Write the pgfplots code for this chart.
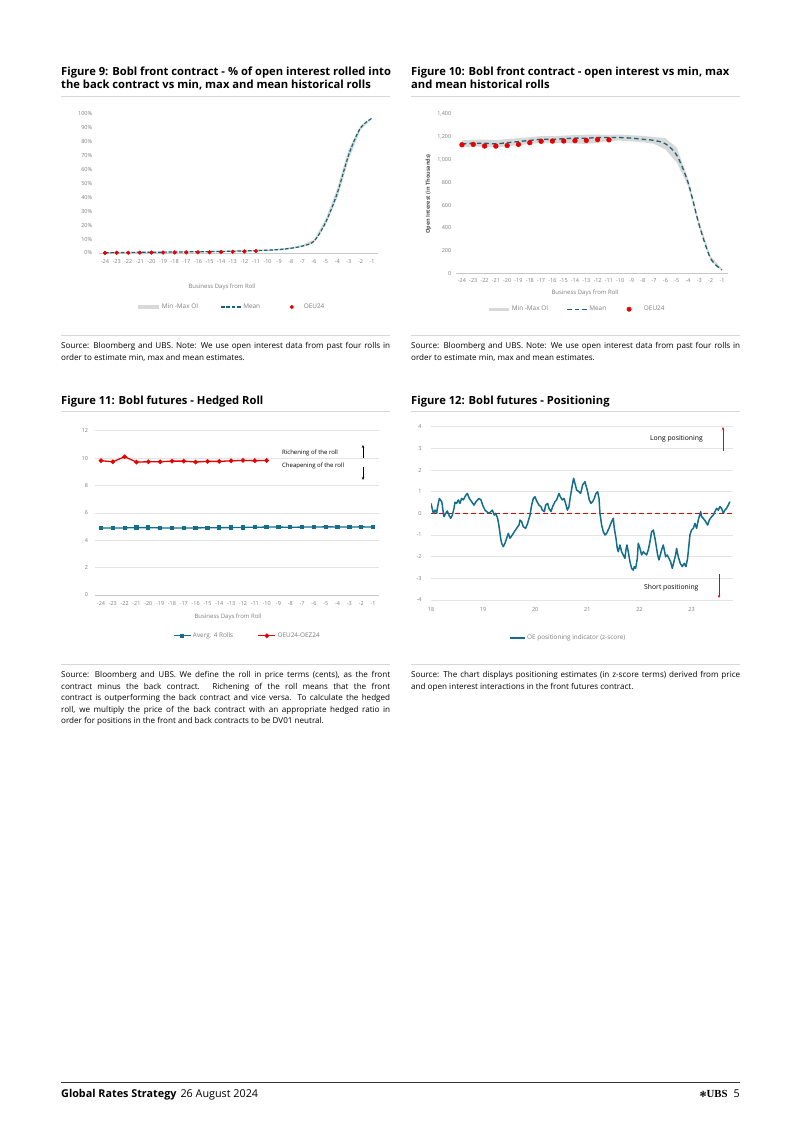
\documentclass[border=0pt]{standalone}
\usepackage{pgfplots}
\pgfplotsset{compat=1.18}
\usepgfplotslibrary{fillbetween}
\usetikzlibrary{arrows.meta}
\usepackage{fontspec}
\setmainfont{Open Sans}
\newfontfamily\symfont{DejaVu Sans}
\definecolor{tealA}{RGB}{24,100,118}
\definecolor{tealB}{RGB}{18,110,140}
\definecolor{ubsred}{RGB}{230,0,0}
\definecolor{ubsredB}{RGB}{231,1,1}
\definecolor{ubsredC}{RGB}{229,2,2}
\definecolor{ubsredD}{RGB}{228,3,3}
\definecolor{band}{RGB}{216,216,216}
\definecolor{gridc}{RGB}{228,228,228}
\definecolor{tickc}{RGB}{125,125,125}
\definecolor{rulec}{RGB}{215,215,215}
\newcommand{\tickfont}{\fontsize{5.5}{6}\selectfont}
\newcommand{\legfont}{\fontsize{6.4}{7}\selectfont}
\newcommand{\titlefont}{\fontsize{11.2}{12.6}\selectfont\bfseries}
\newcommand{\srcfont}{\fontsize{8.1}{11.5}\selectfont\hyphenpenalty=10000\exhyphenpenalty=10000}
\pgfplotsset{
  pagestyle/.style={
    scale only axis,
    axis line style={draw=black!22},
    tick label style={font=\tickfont, text=tickc},
    major tick length=0pt,
    /pgf/number format/assume math mode=true,
    legend style={draw=none, fill=none, inner sep=0pt, font=\legfont, text=tickc,
      nodes={inner sep=1.5pt}},
    legend cell align=left,
  },
  legband/.style={legend image code/.code={\draw[band, line width=3.2pt] (0pt,0pt) -- (#1,0pt);}},
  legmeanA/.style={legend image code/.code={\draw[tealA, line width=1.2pt, dash pattern=on 3.5pt off 1.8pt] (0pt,0pt) -- (20pt,0pt);}},
  legmeanB/.style={legend image code/.code={\draw[tealA, line width=1.3pt, dash pattern=on 4.5pt off 3pt] (0pt,0pt) -- (20pt,0pt);}},
  legdot/.style={legend image code/.code={\fill[ubsred] (0pt,0pt) circle (#1);}},
  legteal/.style={legend image code/.code={\draw[tealB, line width=1.5pt] (0pt,0pt) -- (15pt,0pt);}},
}
\begin{document}
\begin{tikzpicture}[x=1pt,y=1pt]

% ---------------- Figure 9 ----------------
\node[anchor=base west, font=\titlefont, inner sep=0] at (61,-75.7) {Figure 9: Bobl front contract - \% of open interest rolled into};
\node[anchor=base west, font=\titlefont, inner sep=0] at (61,-88.3) {the back contract vs min, max and mean historical rolls};
\draw[rulec, line width=0.6pt] (61,-96) -- (390,-96);
\begin{axis}[pagestyle, at={(99.2pt,-253pt)}, anchor=south west,
  width=278.7pt, height=139pt,
  xmin=-24.5, xmax=-0.5, ymin=0, ymax=100,
  axis x line*=bottom, axis y line*=left, y axis line style={draw=none},
  xtick={-24,...,-1}, ytick={0,10,...,100},
  yticklabel={\pgfmathprintnumber{\tick}\%},
  xticklabel style={yshift=-3pt}, yticklabel style={xshift=-3.5pt},
  legend columns=3,
  legend style={at={(axis description cs:0.132,-0.3885)}, anchor=west,
    /tikz/column 2/.style={column sep=21pt},
    /tikz/column 4/.style={column sep=28pt},
    /tikz/column 5/.style={column sep=8.5pt}},
  ]
\addplot[name path=up9, draw=none, forget plot] coordinates {
(-24,0.6) (-23,0.7) (-22,0.8) (-21,0.9) (-20,1.0) (-19,1.1) (-18,1.2) (-17,1.3) (-16,1.4) (-15,1.5) (-14,1.7) (-13,1.9) (-12,2.1) (-11,2.3) (-10,2.6) (-9,3.1) (-8,4.1) (-7,5.8) (-6,9.6) (-5,24.5) (-4,46.5) (-3,75) (-2,91.5) (-1,97.6)};
\addplot[name path=lo9, draw=none, forget plot] coordinates {
(-24,0) (-23,0) (-22,0.1) (-21,0.2) (-20,0.2) (-19,0.3) (-18,0.4) (-17,0.4) (-16,0.5) (-15,0.6) (-14,0.7) (-13,0.8) (-12,1.0) (-11,1.2) (-10,1.5) (-9,2.0) (-8,2.8) (-7,4.3) (-6,7.5) (-5,20) (-4,39.5) (-3,67.5) (-2,88.5) (-1,96.5)};
\addplot[band, forget plot] fill between[of=up9 and lo9];
\addlegendimage{legband=21pt}
\addlegendentry{Min -Max OI}
\addplot[tealA, line width=1.2pt, dash pattern=on 3.5pt off 1.8pt, smooth, legmeanA] coordinates {
(-24,0.2) (-23,0.3) (-22,0.4) (-21,0.5) (-20,0.5) (-19,0.6) (-18,0.7) (-17,0.8) (-16,0.9) (-15,1.0) (-14,1.1) (-13,1.3) (-12,1.5) (-11,1.7) (-10,2.0) (-9,2.5) (-8,3.4) (-7,5.0) (-6,8.5) (-5,22) (-4,43) (-3,71) (-2,90) (-1,97)};
\addlegendentry{Mean}
\addplot[only marks, mark=*, mark size=1.9pt, ubsred, legdot=1.9pt] coordinates {
(-24,0.1) (-23,0.15) (-22,0.2) (-21,0.25) (-20,0.3) (-19,0.35) (-18,0.4) (-17,0.45) (-16,0.5) (-15,0.55) (-14,0.7) (-13,0.9) (-12,1.1) (-11,1.4)};
\addlegendentry{OEU24}
\end{axis}
\node[font=\fontsize{6}{7}\selectfont, text=tickc] at (222,-287) {Business Days from Roll};
\draw[rulec, line width=0.6pt] (61,-335) -- (390,-335);
\node[anchor=north west, font=\srcfont, text width=329pt, align=justify, inner sep=0] at (61,-342.5)
 {Source: Bloomberg and UBS. Note: We use open interest data from past four rolls in\linebreak order to estimate min, max and mean estimates.};

% ---------------- Figure 10 ----------------
\node[anchor=base west, font=\titlefont, inner sep=0] at (411,-75.7) {Figure 10: Bobl front contract - open interest vs min, max};
\node[anchor=base west, font=\titlefont, inner sep=0] at (411,-88.3) {and mean historical rolls};
\draw[rulec, line width=0.6pt] (411,-96) -- (740,-96);
\begin{axis}[pagestyle, at={(456.3pt,-273.3pt)}, anchor=south west,
  width=271.3pt, height=159pt,
  xmin=-24.5, xmax=-0.5, ymin=0, ymax=1400,
  axis x line*=bottom, axis y line*=left, y axis line style={draw=none},
  xtick={-24,...,-1}, ytick={0,200,...,1400},
  /pgf/number format/1000 sep={,},
  scaled y ticks=false,
  xticklabel style={yshift=-2pt}, yticklabel style={xshift=-1.5pt},
  legend columns=3,
  legend style={at={(axis description cs:0.113,-0.226)}, anchor=west,
    /tikz/column 2/.style={column sep=17pt},
    /tikz/column 4/.style={column sep=19pt},
    /tikz/column 5/.style={column sep=11pt}},
  ]
\addplot[name path=up10, draw=none, forget plot] coordinates {
(-24,1170) (-23,1178) (-22,1178) (-21,1172) (-20,1182) (-19,1190) (-18,1198) (-17,1208) (-16,1208) (-15,1212) (-14,1218) (-13,1220) (-12,1222) (-11,1218) (-10,1222) (-9,1215) (-8,1210) (-7,1200) (-6,1190) (-5,1105) (-4,835) (-3,450) (-2,150) (-1,42)};
\addplot[name path=lo10, draw=none, forget plot] coordinates {
(-24,1112) (-23,1115) (-22,1115) (-21,1108) (-20,1118) (-19,1128) (-18,1138) (-17,1150) (-16,1150) (-15,1148) (-14,1142) (-13,1140) (-12,1148) (-11,1165) (-10,1168) (-9,1162) (-8,1155) (-7,1140) (-6,1090) (-5,975) (-4,770) (-3,395) (-2,110) (-1,20)};
\addplot[band, forget plot] fill between[of=up10 and lo10];
\addlegendimage{legband=20pt}
\addlegendentry{Min -Max OI}
\addplot[tealA, line width=1.3pt, dash pattern=on 4.5pt off 3pt, smooth, legmeanB] coordinates {
(-24,1140) (-23,1145) (-22,1145) (-21,1140) (-20,1150) (-19,1160) (-18,1170) (-17,1180) (-16,1180) (-15,1185) (-14,1190) (-13,1190) (-12,1195) (-11,1195) (-10,1195) (-9,1190) (-8,1180) (-7,1170) (-6,1140) (-5,1040) (-4,800) (-3,420) (-2,130) (-1,30)};
\addlegendentry{Mean}
\addplot[only marks, mark=*, mark size=2.4pt, ubsred, legdot=2.2pt] coordinates {
(-24,1132) (-23,1135) (-22,1121) (-21,1120) (-20,1125) (-19,1135) (-18,1150) (-17,1162) (-16,1164) (-15,1165) (-14,1168) (-13,1170) (-12,1177) (-11,1175)};
\addlegendentry{OEU24}
\end{axis}
\node[font=\fontsize{6}{7}\selectfont, text=tickc] at (585,-293) {Business Days from Roll};
\node[rotate=90, font=\tickfont\bfseries, text=black!70] at (428.5,-194) {Open Interest (in Thousands)};
\draw[rulec, line width=0.6pt] (411,-335) -- (740,-335);
\node[anchor=north west, font=\srcfont, text width=329pt, align=justify, inner sep=0] at (411,-342.5)
 {Source: Bloomberg and UBS. Note: We use open interest data from past four rolls in\linebreak order to estimate min, max and mean estimates.};

% ---------------- Figure 11 ----------------
\node[anchor=base west, font=\titlefont, inner sep=0] at (61,-404) {Figure 11: Bobl futures - Hedged Roll};
\draw[rulec, line width=0.6pt] (61,-411) -- (390,-411);
\begin{axis}[pagestyle, at={(95.1pt,-595pt)}, anchor=south west,
  width=283.9pt, height=164.3pt,
  xmin=-24.5, xmax=-0.5, ymin=0, ymax=12,
  axis x line*=bottom, axis y line*=left, y axis line style={draw=none},
  ymajorgrids, grid style={gridc, line width=0.6pt},
  xtick={-24,...,-1}, ytick={0,2,...,12},
  xticklabel style={yshift=-3pt}, yticklabel style={xshift=-3.5pt},
  legend columns=2,
  legend style={at={(axis description cs:0.274,-0.248)}, anchor=west,
    /tikz/column 2/.style={column sep=23pt}},
  ]
\addplot[tealB, line width=1.3pt, mark=square*, mark size=1.5pt] coordinates {
(-24,4.89) (-23,4.89) (-22,4.90) (-21,4.92) (-20,4.92) (-19,4.90) (-18,4.90) (-17,4.89) (-16,4.90) (-15,4.91) (-14,4.92) (-13,4.92) (-12,4.94) (-11,4.95) (-10,4.96) (-9,4.96) (-8,4.95) (-7,4.96) (-6,4.96) (-5,4.98) (-4,4.97) (-3,4.96) (-2,4.98) (-1,4.96)};
\addlegendentry{Averg. 4 Rolls}
\addplot[ubsred, line width=1.3pt, mark=*, mark size=1.6pt] coordinates {
(-24,9.81) (-23,9.73) (-22,10.1) (-21,9.71) (-20,9.73) (-19,9.73) (-18,9.78) (-17,9.78) (-16,9.71) (-15,9.76) (-14,9.76) (-13,9.80) (-12,9.83) (-11,9.81) (-10,9.83)};
\addlegendentry{OEU24-OEZ24}
\end{axis}
\node[font=\fontsize{6}{7}\selectfont, text=tickc] at (228,-617) {Business Days from Roll};
\node[anchor=west, font=\fontsize{6}{7}\selectfont, inner sep=0] at (282,-453) {Richening of the roll};
\node[anchor=west, font=\fontsize{6}{7}\selectfont, inner sep=0] at (282,-466) {Cheapening of the roll};
\draw[-{Stealth[length=3pt,width=2.5pt]}, line width=0.6pt] (363,-458) -- (363,-445);
\draw[-{Stealth[length=3pt,width=2.5pt]}, line width=0.6pt] (363,-467) -- (363,-480);
\draw[rulec, line width=0.6pt] (61,-664) -- (390,-664);
\node[anchor=north west, font=\srcfont, text width=329pt, align=justify, inner sep=0] at (61,-671.5)
 {Source: Bloomberg and UBS. We define the roll in price terms (cents), as the front\linebreak contract minus the back contract. Richening of the roll means that the front\linebreak contract is outperforming the back contract and vice versa. To calculate the hedged\linebreak roll, we multiply the price of the back contract with an appropriate hedged ratio in\linebreak order for positions in the front and back contracts to be DV01 neutral.};

% ---------------- Figure 12 ----------------
\node[anchor=base west, font=\titlefont, inner sep=0] at (411,-404) {Figure 12: Bobl futures - Positioning};
\draw[rulec, line width=0.6pt] (411,-411) -- (740,-411);
\begin{axis}[pagestyle, at={(431pt,-600pt)}, anchor=south west,
  width=302.3pt, height=173.3pt,
  xmin=18, xmax=23.8, ymin=-4, ymax=4,
  axis x line*=bottom, axis y line*=left, y axis line style={draw=none},
  x axis line style={draw=gridc},
  ymajorgrids, grid style={gridc, line width=0.6pt},
  xtick={18,...,23}, ytick={-4,...,4},
  xticklabel style={yshift=-3.5pt}, yticklabel style={xshift=-6pt},
  legend style={at={(axis description cs:0.258,-0.219)}, anchor=west},
  ]
\addplot[draw=ubsredB, color=ubsredB, line width=1.1pt, dash pattern=on 4.5pt off 3.5pt, forget plot] coordinates {(18,0) (23.8,0)};
\addplot[tealB, line width=1.5pt, line join=round, legteal] coordinates {
(18.000,0.46) (18.045,0.00) (18.077,0.15) (18.109,0.00) (18.121,0.23) (18.160,0.69) (18.205,0.54) (18.217,0.38) (18.237,0.00) (18.249,-0.15) (18.281,0.00) (18.313,0.11) (18.345,-0.08) (18.377,-0.23) (18.409,-0.08) (18.441,0.23) (18.460,0.51) (18.492,0.46) (18.524,0.62) (18.556,0.46) (18.588,0.69) (18.620,0.62) (18.671,0.85) (18.697,0.92) (18.735,0.69) (18.780,0.54) (18.825,0.38) (18.863,0.54) (18.921,0.69) (18.959,0.62) (18.991,0.38) (19.036,0.15) (19.068,0.08) (19.113,0.00) (19.176,0.15) (19.215,-0.08) (19.240,0.00) (19.279,-0.23) (19.311,-0.69) (19.336,-1.15) (19.356,-1.38) (19.387,-1.54) (19.419,-1.38) (19.451,-1.15) (19.483,-0.92) (19.515,-1.15) (19.560,-1.00) (19.598,-0.85) (19.643,-0.69) (19.688,-0.54) (19.707,-0.31) (19.739,-0.38) (19.771,-0.62) (19.816,-0.69) (19.854,-0.46) (19.899,-0.08) (19.931,0.38) (19.963,0.69) (19.995,0.77) (20.027,0.57) (20.072,0.38) (20.110,0.31) (20.136,0.15) (20.174,0.08) (20.199,0.38) (20.238,0.46) (20.263,0.23) (20.302,0.08) (20.334,0.31) (20.379,0.54) (20.410,0.62) (20.455,0.92) (20.481,0.77) (20.519,0.62) (20.551,0.69) (20.583,0.46) (20.615,0.15) (20.647,0.31) (20.679,0.85) (20.717,1.38) (20.737,1.62) (20.762,1.38) (20.794,1.08) (20.839,1.00) (20.871,0.92) (20.909,1.31) (20.954,1.46) (20.980,1.23) (21.005,1.00) (21.037,0.62) (21.069,0.46) (21.101,0.54) (21.133,0.69) (21.165,0.92) (21.197,1.00) (21.223,0.69) (21.242,0.00) (21.274,-0.54) (21.306,-0.85) (21.338,-1.00) (21.370,-0.92) (21.414,-0.69) (21.465,-0.38) (21.497,-0.23) (21.517,-0.69) (21.549,-1.15) (21.574,-1.62) (21.593,-1.77) (21.625,-1.46) (21.657,-1.77) (21.689,-1.92) (21.721,-2.08) (21.740,-1.69) (21.760,-1.46) (21.785,-1.77) (21.817,-2.23) (21.849,-2.54) (21.881,-2.62) (21.900,-2.46) (21.926,-2.54) (21.958,-2.08) (21.977,-1.38) (22.009,-1.62) (22.041,-1.92) (22.073,-1.77) (22.105,-1.85) (22.137,-1.92) (22.169,-1.69) (22.201,-1.31) (22.233,-0.85) (22.265,-0.77) (22.297,-1.15) (22.329,-1.62) (22.348,-1.92) (22.373,-2.15) (22.399,-1.92) (22.425,-1.69) (22.456,-1.46) (22.476,-1.69) (22.501,-2.00) (22.533,-1.92) (22.565,-2.08) (22.597,-2.23) (22.629,-2.54) (22.661,-2.23) (22.693,-1.92) (22.712,-1.62) (22.744,-2.00) (22.783,-2.31) (22.821,-2.46) (22.859,-2.31) (22.891,-2.46) (22.923,-2.08) (22.949,-1.46) (22.968,-1.00) (23.000,-0.77) (23.032,-0.69) (23.064,-0.46) (23.096,-0.69) (23.128,-0.31) (23.173,0.08) (23.192,-0.15) (23.224,-0.23) (23.269,-0.38) (23.307,-0.54) (23.339,-0.31) (23.384,-0.15) (23.416,-0.08) (23.448,0.08) (23.480,0.23) (23.512,0.15) (23.544,0.31) (23.575,0.23) (23.608,0.00) (23.640,0.15) (23.671,0.23) (23.703,0.38) (23.735,0.54)};
\addlegendentry{OE positioning indicator (z-score)}
\end{axis}
\node[anchor=west, font=\fontsize{6.8}{8}\selectfont, inner sep=0] at (650,-439) {Long positioning};
\node[anchor=west, font=\fontsize{6.8}{8}\selectfont, inner sep=0] at (644,-588) {Short positioning};
\draw[draw=ubsredC, fill=ubsredC, -{Stealth[length=3pt,width=2.5pt]}, line width=0.7pt] (723,-451) -- (723,-427);
\draw[draw=ubsredD, fill=ubsredD, -{Stealth[length=3pt,width=2.5pt]}, line width=0.7pt] (719,-574) -- (719,-598);
\draw[rulec, line width=0.6pt] (411,-664) -- (740,-664);
\node[anchor=north west, font=\srcfont, text width=329pt, align=justify, inner sep=0] at (411,-671.5)
 {Source: The chart displays positioning estimates (in z-score terms) derived from price\linebreak and open interest interactions in the front futures contract.};

% ---------------- Footer ----------------
\draw[black!80, line width=0.8pt] (61,-1082) -- (740,-1082);
\node[anchor=base west, inner sep=0, font=\fontsize{10.8}{12}\selectfont] at (61,-1097.5) {\textbf{Global Rates Strategy}\hspace{4pt}26 August 2024};
\node[anchor=base east, inner sep=0, font=\fontsize{10.8}{12}\selectfont] at (740,-1097.5) {{\symfont\fontsize{8.5}{10}\selectfont ❃}{\fontspec{Liberation Serif}\bfseries UBS}\hspace{6pt}5};
\pgfresetboundingbox
\path[use as bounding box] (0,0) rectangle (802,-1134);
\end{tikzpicture}
\end{document}
